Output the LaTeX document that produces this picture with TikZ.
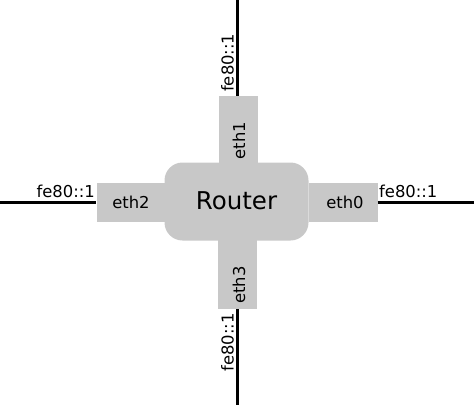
\documentclass[tikz,border=0pt]{standalone}
\usepackage{fontspec}
\setmainfont{DejaVu Sans}
\definecolor{boxgray}{RGB}{200,200,200}

\begin{document}
\begin{tikzpicture}[x=1pt, y=-1pt]
\tikzstyle{port}=[rectangle, fill=boxgray, inner sep=0pt]
\tikzstyle{lbl}=[inner sep=0pt, font=\fontsize{16.4}{19}\selectfont]
\tikzstyle{wire}=[line width=3pt]
\useasboundingbox (0,0) rectangle (474,405);
	% ports first, the router box covers their inner ends
	\node[port, minimum width=69pt, minimum height=39pt] (eth0) at (343,202){};
	\node[port, minimum width=69pt, minimum height=39pt] (eth2) at (131,202){};
	\node[port, minimum width=39pt, minimum height=80pt] (eth1) at (238.5,136){};
	\node[port, minimum width=39pt, minimum height=80pt] (eth3) at (237.5,269){};
	\node[rectangle, rounded corners=18pt, fill=boxgray, minimum width=144pt,
	      minimum height=78pt, inner sep=0pt] (router) at (236.5,201.5){};
	\node[inner sep=0pt, anchor=base, font=\fontsize{24.5}{29}\selectfont] (rtxt) at (236.5,209){Router};
	% port names
	\node[lbl, anchor=base] (t0) at (345,208){eth0};
	\node[lbl, anchor=base] (t2) at (131,208){eth2};
	\node[lbl, anchor=base, rotate=90] (t1) at (245,140.5){eth1};
	\node[lbl, anchor=base, rotate=90] (t3) at (245,285){eth3};
	% links
	\coordinate (w) at (0,202);
	\coordinate (e) at (474,202);
	\coordinate (n) at (237.3,0);
	\coordinate (s) at (237.3,405);
\draw[wire] (w)--(eth2.west);
\draw[wire] (eth0.east)--(e);
\draw[wire] (n)--(n |- eth1.north);
\draw[wire] (s |- eth3.south)--(s);
	% addresses
	\node[lbl, anchor=base east] (a2) at (95,197){fe80::1};
	\node[lbl, anchor=base west] (a0) at (379,197){fe80::1};
	\node[lbl, anchor=base west, rotate=90] (a1) at (233.5,92){fe80::1};
	\node[lbl, anchor=base east, rotate=90] (a3) at (233.5,313){fe80::1};
\end{tikzpicture}
\end{document}
